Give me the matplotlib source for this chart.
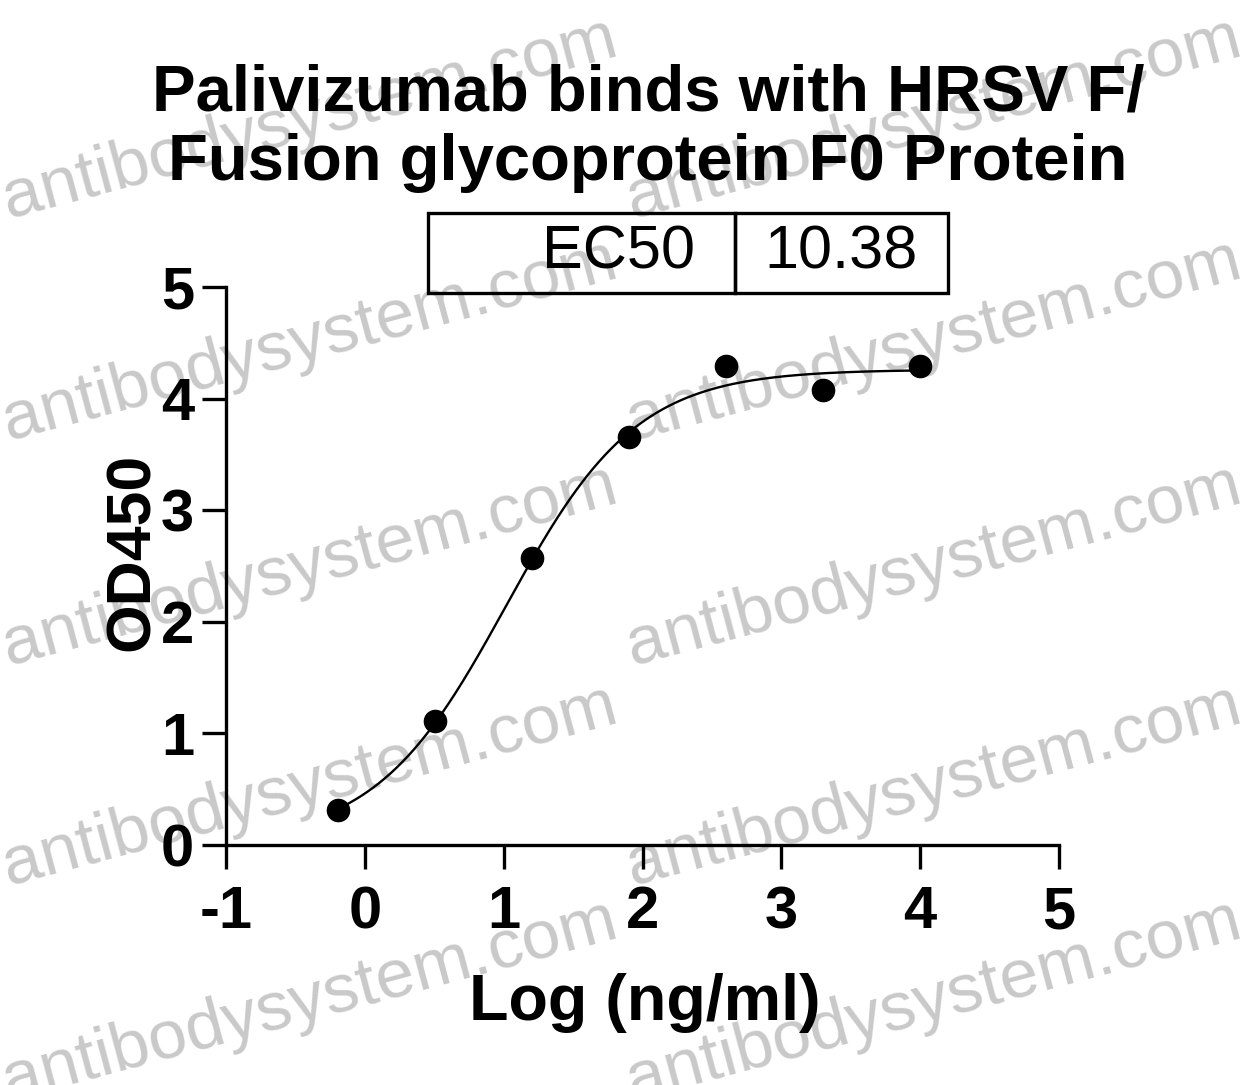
import numpy as np
import matplotlib
matplotlib.use('Agg')
from matplotlib import pyplot as plt

plt.rcParams['font.family'] = ['Liberation Sans', 'DejaVu Sans']

# data
conc = [0.64, 3.2, 16, 80, 400, 2000, 10000]  # ng/ml
od450 = [0.31, 1.11, 2.57, 3.66, 4.29, 4.08, 4.29]
ec50 = 10.38
# 4PL fit parameters (bottom, top, hill)
fit_bottom, fit_top, fit_hill = 0.02, 4.26, 0.92

title = 'Palivizumab binds with HRSV F/\nFusion glycoprotein F0 Protein'
xticks = [-1, 0, 1, 2, 3, 4, 5]
yticks = [0, 1, 2, 3, 4, 5]
watermark = 'antibodysystem.com'

W, H = 1251, 1085
fig = plt.figure(figsize=(W / 100, H / 100), dpi=100)
fig.patch.set_facecolor('white')

# watermark grid (pixel anchors, from top-left)
wm_x = [8, 632]
wm_y = [218, 440, 665, 885, 1100]
for py in wm_y:
    for px in wm_x:
        fig.text(px / W, 1 - py / H, watermark, fontsize=50, color='#c9c9c9',
                 rotation=15, rotation_mode='anchor', ha='left', va='baseline',
                 zorder=-5)

ax = fig.add_axes([226 / W, 1 - 845 / H, (1059 - 226) / W, (845 - 287) / H])
ax.set_facecolor('none')

logx = np.log10(conc)
xs = np.linspace(logx.min(), logx.max(), 300)
ys = fit_bottom + (fit_top - fit_bottom) / (1 + 10 ** (fit_hill * (np.log10(ec50) - xs)))
ax.plot(xs, ys, color='black', lw=1.7, zorder=3, clip_on=False)
ax.plot(logx, od450, 'o', color='black', ms=16, zorder=4, clip_on=False)

ax.set_xlim(-1, 5)
ax.set_ylim(0, 5)
ax.set_xticks(xticks)
ax.set_yticks(yticks)
ax.set_xticklabels([str(t) for t in xticks], fontsize=43, fontweight='bold')
ax.set_yticklabels([str(t) for t in yticks], fontsize=43, fontweight='bold')
for s in ['top', 'right']:
    ax.spines[s].set_visible(False)
for s in ['left', 'bottom']:
    ax.spines[s].set_linewidth(2.4)
ax.tick_params(axis='both', length=17, width=2.4)
ax.tick_params(axis='x', pad=12)
ax.tick_params(axis='y', pad=6)

ax.set_xlabel('Log (ng/ml)', fontsize=46.5, fontweight='bold')
ax.set_ylabel('OD450', fontsize=45, fontweight='bold')
ax.xaxis.set_label_coords((645 - 226) / (1059 - 226), -(1003 - 845) / (845 - 287))
ax.yaxis.set_label_coords(-(226 - 132) / (1059 - 226), (845 - 552) / (845 - 287))
ax.xaxis.label.set_va('center')
ax.yaxis.label.set_va('center')

fig.text(648 / W, 1 - 128 / H, title, fontsize=47, fontweight='bold',
         ha='center', va='center', linespacing=1.2)

# EC50 table
tab = ax.table(cellText=[['EC50', f'{ec50:.2f}']], cellLoc='center',
               colWidths=[0.59, 0.41],
               bbox=[(428 - 226) / (1059 - 226), (845 - 293) / (845 - 287),
                     (948 - 428) / (1059 - 226), 80 / (845 - 287)])
tab.auto_set_font_size(False)
for (r, c), cell in tab.get_celld().items():
    cell.set_linewidth(2.4)
    cell.set_facecolor('none')
    cell.get_text().set_fontsize(44)
    if c == 0:
        cell.get_text().set_horizontalalignment('right')
        cell.PAD = 0.13
tab.set_clip_on(False)

fig.savefig('out.png', dpi=100)
plt.close(fig)
